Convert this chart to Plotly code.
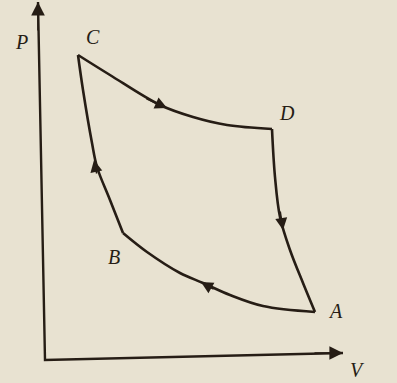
import plotly.graph_objects as go

# cycle (V and P in arbitrary units)
v_cd = [3.3, 6.5, 11.5, 14.8, 18.2, 22.7]
p_cd = [30.5, 28.5, 25.5, 24.3, 23.5, 23.1]

v_da = [22.7, 23.0, 23.5, 24.5, 25.8, 27.0]
p_da = [23.1, 18.3, 14.3, 11.0, 7.7, 4.8]

v_ab = [27.0, 21.8, 18.5, 15.8, 13.5, 10.2, 7.8]
p_ab = [4.8, 5.4, 6.5, 7.7, 8.7, 10.8, 12.7]

v_bc = [7.8, 6.5, 5.2, 4.7, 3.8, 3.3]
p_bc = [12.7, 16.0, 19.3, 21.7, 27.0, 30.5]

# direction marks: tip (V, P) and tail (V, P)
arrow_v = [12.2, 23.8, 15.6, 4.9]
arrow_p = [25.2, 13.0, 7.8, 20.0]
arrow_from_v = [10.0, 23.5, 17.0, 5.2]
arrow_from_p = [26.2, 15.0, 7.0, 18.5]

# point labels
label_text = ["C", "D", "A", "B"]
label_v = [4.8, 24.2, 29.0, 6.9]
label_p = [32.3, 24.7, 4.9, 10.3]

axis_v = [-0.7, 0.0, 29.8]
axis_p = [35.8, 0.0, 0.7]

ink = "#261d15"
paper = "#e8e2d1"

fig = go.Figure()

for vs, ps in [(v_cd, p_cd), (v_da, p_da), (v_ab, p_ab), (v_bc, p_bc)]:
    fig.add_trace(
        go.Scatter(
            x=vs,
            y=ps,
            mode="lines",
            line=dict(color=ink, width=2.6, shape="spline", smoothing=1.0),
            hoverinfo="skip",
        )
    )

# axes
fig.add_trace(
    go.Scatter(
        x=axis_v,
        y=axis_p,
        mode="lines",
        line=dict(color=ink, width=2.4),
        hoverinfo="skip",
    )
)

# axis arrowheads
fig.add_annotation(
    x=axis_v[0], y=axis_p[0], ax=axis_v[0], ay=axis_p[0] - 3,
    xref="x", yref="y", axref="x", ayref="y",
    showarrow=True, arrowhead=2, arrowsize=1.7, arrowwidth=1.6, arrowcolor=ink, text="",
)
fig.add_annotation(
    x=axis_v[2], y=axis_p[2], ax=axis_v[2] - 3, ay=axis_p[2],
    xref="x", yref="y", axref="x", ayref="y",
    showarrow=True, arrowhead=2, arrowsize=1.7, arrowwidth=1.6, arrowcolor=ink, text="",
)

# direction marks along the cycle
for x, y, x0, y0 in zip(arrow_v, arrow_p, arrow_from_v, arrow_from_p):
    fig.add_annotation(
        x=x, y=y, ax=x0, ay=y0,
        xref="x", yref="y", axref="x", ayref="y",
        showarrow=True, arrowhead=2, arrowsize=1.5, arrowwidth=1.6, arrowcolor=ink, text="",
    )

for t, x, y in zip(label_text, label_v, label_p):
    fig.add_annotation(
        x=x, y=y, text=f"<i>{t}</i>", showarrow=False,
        font=dict(family="Liberation Serif", size=20, color=ink),
    )

fig.add_annotation(
    x=-2.4, y=31.8, text="<i>P</i>", showarrow=False,
    font=dict(family="Liberation Serif", size=20, color=ink),
)
fig.add_annotation(
    x=31.2, y=-1.0, text="<i>V</i>", showarrow=False,
    font=dict(family="Liberation Serif", size=20, color=ink),
)

fig.update_xaxes(range=[-4.5, 35.2], visible=False)
fig.update_yaxes(range=[-2.3, 36.0], visible=False)
fig.update_layout(
    width=397,
    height=383,
    margin=dict(l=0, r=0, t=0, b=0),
    paper_bgcolor=paper,
    plot_bgcolor=paper,
    showlegend=False,
)

fig.write_html(
    "out.html",
    config={"displayModeBar": False},
    post_script="document.body.style.margin='0';document.body.style.background='%s';" % paper,
)
